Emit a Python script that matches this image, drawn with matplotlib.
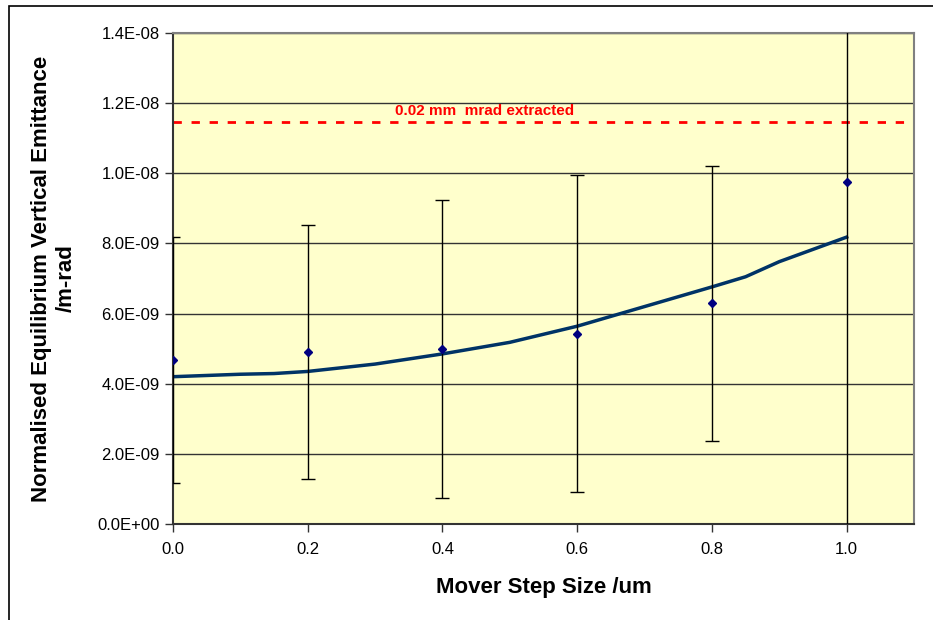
import matplotlib
matplotlib.use('Agg')
import matplotlib.pyplot as plt
from matplotlib.patches import Rectangle
from matplotlib.ticker import FuncFormatter, MultipleLocator

# measured points with error bars
step_size = [0.0, 0.2, 0.4, 0.6, 0.8, 1.0]
emittance = [4.68e-9, 4.91e-9, 4.99e-9, 5.43e-9, 6.30e-9, 9.74e-9]
emittance_err = [3.50e-9, 3.62e-9, 4.25e-9, 4.52e-9, 3.92e-9, 1.0e-8]

# smooth curve
curve_x = [0.0, 0.1, 0.15, 0.2, 0.3, 0.4, 0.5, 0.6, 0.7, 0.8, 0.85, 0.9, 1.0]
curve_y = [4.20e-9, 4.27e-9, 4.29e-9, 4.35e-9, 4.56e-9, 4.85e-9, 5.18e-9,
           5.64e-9, 6.20e-9, 6.76e-9, 7.05e-9, 7.48e-9, 8.18e-9]

limit_value = 1.147e-8
limit_label = "0.02 mm  mrad extracted"

plt.rcParams['font.family'] = ['Liberation Sans', 'DejaVu Sans']

fig = plt.figure(figsize=(9.33, 6.2), dpi=100)
ax = fig.add_axes([173/933, 1-524/620, (914-173)/933, (524-33)/620])
ax.set_facecolor('#FFFFCC')

ax.set_xlim(0, 1.1)
ax.set_ylim(0, 1.4e-8)
ax.yaxis.set_major_locator(MultipleLocator(2e-9))
ax.xaxis.set_major_locator(MultipleLocator(0.2))
ax.xaxis.set_major_formatter(FuncFormatter(lambda v, p: f"{v:.1f}"))
ax.yaxis.set_major_formatter(FuncFormatter(lambda v, p: f"{v:.1E}"))

ax.grid(axis='y', color='#333333', lw=1)
ax.set_axisbelow(True)

ax.plot(curve_x, curve_y, color='#003366', lw=2.5, zorder=3)
ax.errorbar(step_size, emittance, yerr=emittance_err, fmt='D', ms=4,
            color='#000080', ecolor='black', elinewidth=1, capsize=5,
            capthick=1, zorder=4)

ax.axhline(limit_value, color='red', lw=2, ls=(0, (3, 3.5)), zorder=2)
ax.text(0.329, limit_value + 0.1e-9, limit_label, color='red',
        fontsize=11, fontweight='bold', va='bottom', ha='left')

for side in ['left', 'bottom']:
    ax.spines[side].set_color('#333333')
    ax.spines[side].set_linewidth(1.5)
for side in ['top', 'right']:
    ax.spines[side].set_color('#808080')
    ax.spines[side].set_linewidth(1.5)

ax.tick_params(axis='both', direction='out', length=6, width=1,
               color='#333333', labelsize=12)
ax.tick_params(axis='x', pad=7)

ax.set_xlabel("Mover Step Size /um", fontsize=16, fontweight='bold', labelpad=14)
ax.set_ylabel("Normalised Equilibrium Vertical Emittance\n/m-rad",
              fontsize=16, fontweight='bold', labelpad=15, linespacing=1.2)

# outer chart border
fig.add_artist(Rectangle((8.5/933, -0.1), 2, (620-5.5)/620 + 0.1,
                         transform=fig.transFigure, fill=False,
                         ec='black', lw=1.2))

fig.savefig('out.png', dpi=100)
